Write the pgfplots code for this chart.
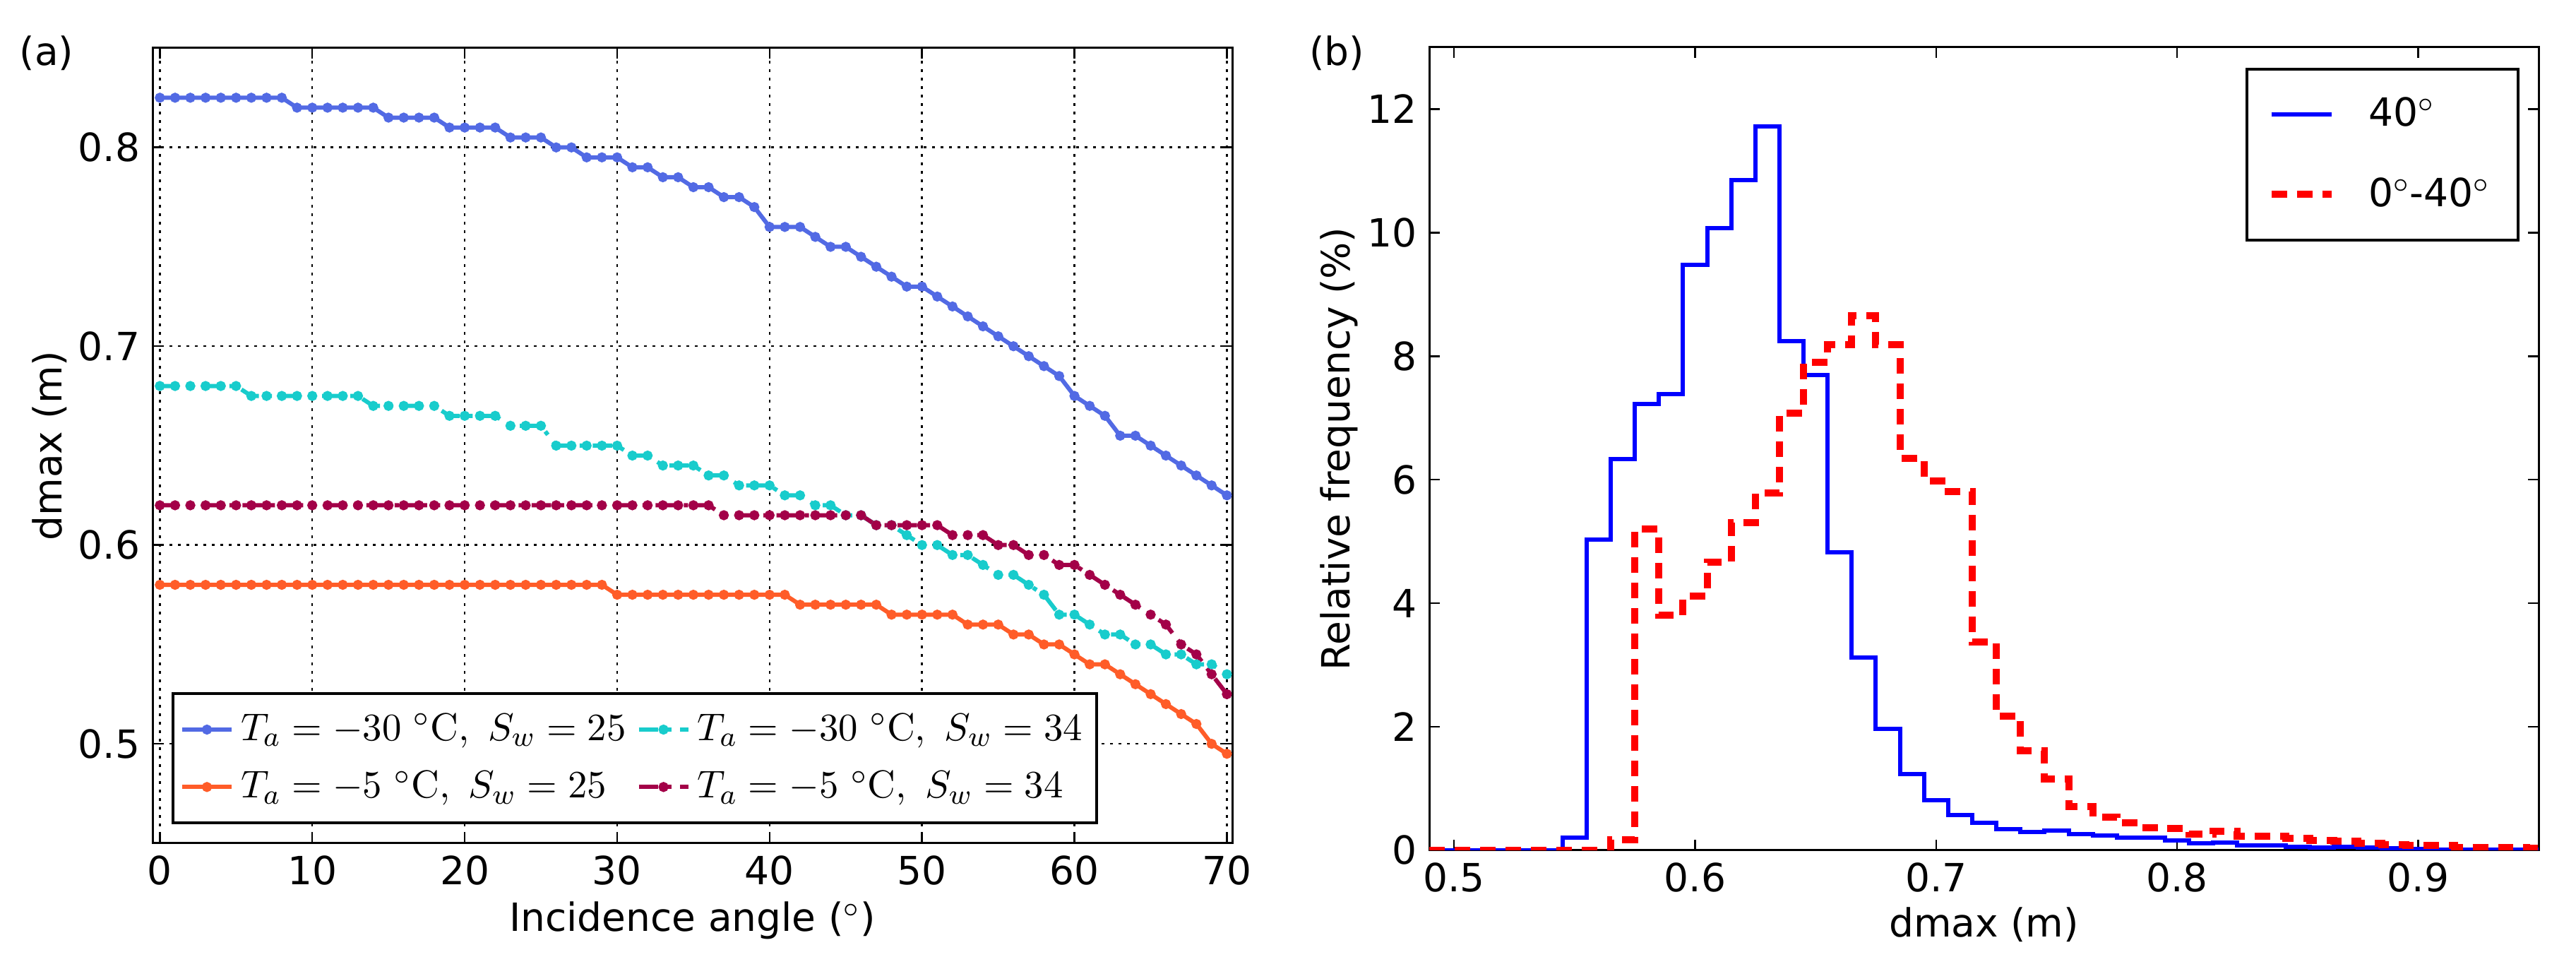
\documentclass[border=0pt]{standalone}
\usepackage{fontspec}
\setmainfont{DejaVu Sans}
\newfontfamily\lmr{Latin Modern Roman}
\usepackage{pgfplots}
\pgfplotsset{compat=1.18}

\definecolor{cblue}{RGB}{82,106,228}
\definecolor{ccyan}{RGB}{24,204,204}
\definecolor{cmag}{RGB}{163,0,72}
\definecolor{corange}{RGB}{255,92,40}
\newcommand{\degC}{^\circ\mbox{\lmr C}}

\begin{document}
\begin{tikzpicture}
\useasboundingbox (0,0) rectangle (729.6pt,274.4pt);
\pgfplotsset{
  every axis/.append style={
    scale only axis, font=\fontsize{11}{13}\selectfont,
    axis line style={line width=0.6pt},
    tick style={line width=0.5pt, black},
    major tick length=3pt,
    tick align=inside, xtick pos=both, ytick pos=both,
    /pgf/number format/assume math mode=true,
  }
}

\begin{axis}[at={(43.2pt,35.6pt)}, anchor=south west, width=305.8pt, height=225.2pt,
  xmin=-0.48, xmax=70.35, ymin=0.45, ymax=0.85,
  xtick={0,10,...,70}, ytick={0.5,0.6,0.7,0.8},
  yticklabel style={/pgf/number format/fixed, /pgf/number format/precision=1, /pgf/number format/fixed zerofill},
  grid=major, major grid style={black, line width=0.5pt, dash pattern=on 0.8pt off 1.6pt},
  xlabel={Incidence angle ($^\circ$)}, ylabel={dmax (m)},
  xlabel style={at={(axis description cs:0.5,-0.097)}, anchor=center},
  ylabel style={at={(axis description cs:-0.0955,0.5)}, anchor=center},
  legend columns=2,
  legend style={at={(0.0177,0.024)}, anchor=south west, draw=black, line width=0.8pt,
    font=\fontsize{11}{13}\selectfont, /tikz/every even column/.append style={column sep=1pt},
    inner xsep=2pt, inner ysep=3.5pt, row sep=3pt, cells={anchor=west}},
  legend image code/.code={\draw[mark repeat=2,mark phase=2] plot coordinates {(0pt,0pt)(7pt,0pt)(14pt,0pt)};},
]
\addplot[cblue, line width=1.2pt, mark=*, mark size=0.8pt] coordinates {
(0,0.825)(1,0.825)(2,0.825)(3,0.825)(4,0.825)(5,0.825)(6,0.825)(7,0.825)(8,0.825)
(9,0.82)(10,0.82)(11,0.82)(12,0.82)(13,0.82)(14,0.82)
(15,0.815)(16,0.815)(17,0.815)(18,0.815)
(19,0.81)(20,0.81)(21,0.81)(22,0.81)
(23,0.805)(24,0.805)(25,0.805)
(26,0.80)(27,0.80)
(28,0.795)(29,0.795)(30,0.795)
(31,0.79)(32,0.79)
(33,0.785)(34,0.785)
(35,0.78)(36,0.78)
(37,0.775)(38,0.775)
(39,0.77)
(40,0.76)(41,0.76)(42,0.76)
(43,0.755)
(44,0.75)(45,0.75)
(46,0.745)(47,0.74)(48,0.735)
(49,0.73)(50,0.73)
(51,0.725)(52,0.72)(53,0.715)(54,0.71)(55,0.705)(56,0.70)(57,0.695)(58,0.69)(59,0.685)
(60,0.675)(61,0.67)(62,0.665)(63,0.655)(64,0.655)(65,0.65)(66,0.645)(67,0.64)(68,0.635)(69,0.63)(70,0.625)};
\addlegendentry{$T_a=-30\ \degC,\ S_w=25$}
\addplot[ccyan, line width=1.2pt, dash pattern=on 5.5pt off 2.5pt on 1.2pt off 2.5pt, mark=*, mark size=0.8pt, mark options={solid}] coordinates {
(0,0.68)(1,0.68)(2,0.68)(3,0.68)(4,0.68)(5,0.68)
(6,0.675)(7,0.675)(8,0.675)(9,0.675)(10,0.675)(11,0.675)(12,0.675)(13,0.675)
(14,0.67)(15,0.67)(16,0.67)(17,0.67)(18,0.67)
(19,0.665)(20,0.665)(21,0.665)(22,0.665)
(23,0.66)(24,0.66)(25,0.66)
(26,0.65)(27,0.65)(28,0.65)(29,0.65)(30,0.65)
(31,0.645)(32,0.645)
(33,0.64)(34,0.64)(35,0.64)
(36,0.635)(37,0.635)
(38,0.63)(39,0.63)(40,0.63)
(41,0.625)(42,0.625)
(43,0.62)(44,0.62)
(45,0.615)(46,0.615)
(47,0.61)(48,0.61)
(49,0.605)
(50,0.60)(51,0.60)
(52,0.595)(53,0.595)
(54,0.59)
(55,0.585)(56,0.585)
(57,0.58)(58,0.575)
(59,0.565)(60,0.565)
(61,0.56)
(62,0.555)(63,0.555)
(64,0.55)(65,0.55)
(66,0.545)(67,0.545)
(68,0.54)(69,0.54)
(70,0.535)};
\addlegendentry{$T_a=-30\ \degC,\ S_w=34$}
\addplot[corange, line width=1.2pt, mark=*, mark size=0.8pt] coordinates {
(0,0.58)(1,0.58)(2,0.58)(3,0.58)(4,0.58)(5,0.58)(6,0.58)(7,0.58)(8,0.58)(9,0.58)
(10,0.58)(11,0.58)(12,0.58)(13,0.58)(14,0.58)(15,0.58)(16,0.58)(17,0.58)(18,0.58)(19,0.58)
(20,0.58)(21,0.58)(22,0.58)(23,0.58)(24,0.58)(25,0.58)(26,0.58)(27,0.58)(28,0.58)(29,0.58)
(30,0.575)(31,0.575)(32,0.575)(33,0.575)(34,0.575)(35,0.575)(36,0.575)(37,0.575)(38,0.575)(39,0.575)(40,0.575)(41,0.575)
(42,0.57)(43,0.57)(44,0.57)(45,0.57)(46,0.57)(47,0.57)
(48,0.565)(49,0.565)(50,0.565)(51,0.565)(52,0.565)
(53,0.56)(54,0.56)(55,0.56)
(56,0.555)(57,0.555)
(58,0.55)(59,0.55)
(60,0.545)
(61,0.54)(62,0.54)
(63,0.535)(64,0.53)(65,0.525)(66,0.52)(67,0.515)(68,0.51)(69,0.50)(70,0.495)};
\addlegendentry{$T_a=-5\ \degC,\ S_w=25$}
\addplot[cmag, line width=1.2pt, dash pattern=on 5.5pt off 2.5pt on 1.2pt off 2.5pt, mark=*, mark size=0.8pt, mark options={solid}] coordinates {
(0,0.62)(1,0.62)(2,0.62)(3,0.62)(4,0.62)(5,0.62)(6,0.62)(7,0.62)(8,0.62)(9,0.62)
(10,0.62)(11,0.62)(12,0.62)(13,0.62)(14,0.62)(15,0.62)(16,0.62)(17,0.62)(18,0.62)(19,0.62)
(20,0.62)(21,0.62)(22,0.62)(23,0.62)(24,0.62)(25,0.62)(26,0.62)(27,0.62)(28,0.62)(29,0.62)
(30,0.62)(31,0.62)(32,0.62)(33,0.62)(34,0.62)(35,0.62)(36,0.62)
(37,0.615)(38,0.615)(39,0.615)(40,0.615)(41,0.615)(42,0.615)(43,0.615)(44,0.615)(45,0.615)(46,0.615)
(47,0.61)(48,0.61)(49,0.61)(50,0.61)(51,0.61)
(52,0.605)(53,0.605)(54,0.605)
(55,0.60)(56,0.60)
(57,0.595)(58,0.595)
(59,0.59)(60,0.59)
(61,0.585)(62,0.58)(63,0.575)(64,0.57)(65,0.565)(66,0.56)(67,0.55)(68,0.545)(69,0.535)(70,0.525)};
\addlegendentry{$T_a=-5\ \degC,\ S_w=34$}
\end{axis}

\begin{axis}[at={(404.8pt,33.6pt)}, anchor=south west, width=314.2pt, height=227.4pt,
  xmin=0.4897, xmax=0.95, ymin=0, ymax=13,
  xtick={0.5,0.6,0.7,0.8,0.9}, ytick={0,2,4,6,8,10,12},
  xticklabel style={/pgf/number format/fixed, /pgf/number format/precision=1, /pgf/number format/fixed zerofill},
  xlabel={dmax (m)}, ylabel={Relative frequency (\%)},
  xlabel style={at={(axis description cs:0.5,-0.093)}, anchor=center},
  ylabel style={at={(axis description cs:-0.081,0.5)}, anchor=center},
  legend style={at={(0.983,0.9745)}, anchor=north east, draw=black, line width=0.8pt,
    font=\fontsize{11}{13}\selectfont, inner xsep=6pt, inner ysep=6pt, row sep=9pt, cells={anchor=west}},
  legend image code/.code={\draw (0pt,0pt)--(17pt,0pt);},
]
\addplot[const plot, blue, line width=1.2pt] coordinates {
(0.4897,0)(0.545,0.2)(0.555,5.03)(0.565,6.33)(0.575,7.23)(0.585,7.39)(0.595,9.48)(0.605,10.07)
(0.615,10.85)(0.625,11.72)(0.635,8.24)(0.645,7.70)(0.655,4.82)(0.665,3.12)(0.675,1.97)(0.685,1.24)
(0.695,0.81)(0.705,0.57)(0.715,0.44)(0.725,0.34)(0.735,0.30)(0.745,0.32)(0.755,0.26)(0.765,0.24)
(0.775,0.21)(0.785,0.20)(0.795,0.16)(0.805,0.11)(0.815,0.12)(0.825,0.08)(0.835,0.08)(0.845,0.06)
(0.855,0.05)(0.865,0.06)(0.875,0.04)(0.885,0.03)(0.895,0.02)(0.905,0.01)(0.915,0.01)(0.925,0.01)
(0.935,0.01)(0.945,0.01)(0.95,0.01)};
\addlegendentry{\hspace{7.5pt}40$^\circ$}
\addplot[const plot, red, line width=2pt, dash pattern=on 4.4pt off 2.8pt] coordinates {
(0.4897,0)(0.565,0.17)(0.575,5.2)(0.585,3.81)(0.595,4.12)(0.605,4.67)(0.615,5.3)(0.625,5.78)
(0.635,7.08)(0.645,7.9)(0.655,8.19)(0.665,8.66)(0.675,8.19)(0.685,6.34)(0.695,5.98)(0.705,5.81)
(0.715,3.37)(0.725,2.17)(0.735,1.61)(0.745,1.16)(0.755,0.71)(0.765,0.54)(0.775,0.45)(0.785,0.37)
(0.795,0.35)(0.805,0.26)(0.815,0.31)(0.825,0.23)(0.835,0.23)(0.845,0.19)(0.855,0.16)(0.865,0.15)
(0.875,0.11)(0.885,0.09)(0.895,0.08)(0.905,0.08)(0.915,0.05)(0.925,0.05)(0.935,0.04)(0.945,0.03)
(0.95,0.03)};
\addlegendentry{\hspace{7.5pt}0$^\circ$-40$^\circ$}
\end{axis}

\node[font=\fontsize{11}{13}\selectfont] at (13.2pt,259.4pt) {(a)};
\node[font=\fontsize{11}{13}\selectfont] at (378.6pt,259.4pt) {(b)};
\end{tikzpicture}
\end{document}
